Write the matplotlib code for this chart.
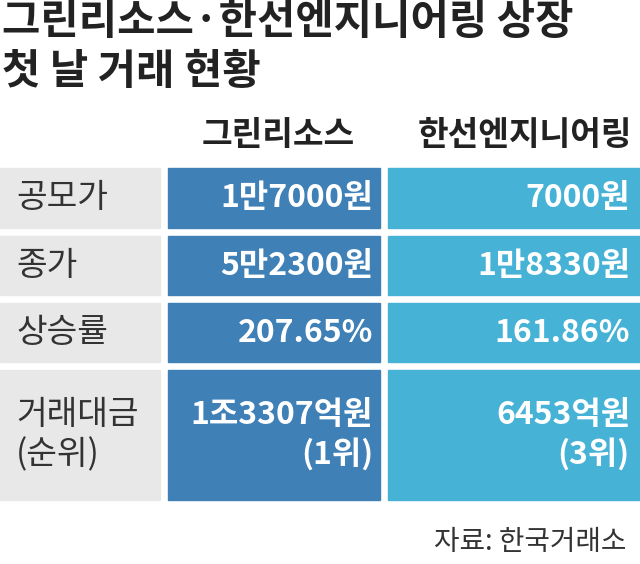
import matplotlib.pyplot as plt
from matplotlib.patches import Rectangle

plt.rcParams['font.family'] = ['Noto Sans CJK KR', 'DejaVu Sans']

title_lines = ['그린리소스·한선엔지니어링 상장', '첫 날 거래 현황']
companies = ['그린리소스', '한선엔지니어링']
row_labels = ['공모가', '종가', '상승률', '거래대금\n(순위)']
green_vals = ['1만7000원', '5만2300원', '207.65%', '1조3307억원\n(1위)']
hansun_vals = ['7000원', '1만8330원', '161.86%', '6453억원\n(3위)']
source = '자료: 한국거래소'

fig = plt.figure(figsize=(6.4, 5.64), dpi=100)
ax = fig.add_axes([0, 0, 1, 1])
ax.set_xlim(0, 640)
ax.set_ylim(564, 0)
ax.axis('off')

ax.text(2, 22, title_lines[0], fontsize=30, fontweight='bold', color='#222222', va='center')
ax.text(2, 72, title_lines[1], fontsize=30, fontweight='bold', color='#222222', va='center')

ax.text(278, 135, companies[0], fontsize=24, fontweight='bold', color='#222222', ha='center', va='center')
ax.text(525, 135, companies[1], fontsize=24, fontweight='bold', color='#222222', ha='center', va='center')

rows = [(168, 228), (236, 295), (303, 362), (370, 500)]
for (y0, y1), lab, g, h in zip(rows, row_labels, green_vals, hansun_vals):
    ax.add_patch(Rectangle((0, y0), 160, y1 - y0, color='#e8e8e8'))
    ax.add_patch(Rectangle((168, y0), 212, y1 - y0, color='#3f80b6'))
    ax.add_patch(Rectangle((388, y0), 252, y1 - y0, color='#46b2d6'))
    yc = (y0 + y1) / 2
    ax.text(16, yc, lab, fontsize=24, color='#333333', va='center', linespacing=1.2)
    ax.text(373, yc, g, fontsize=23, fontweight='bold', color='white', ha='right', va='center',
            multialignment='right', linespacing=1.25)
    ax.text(630, yc, h, fontsize=23, fontweight='bold', color='white', ha='right', va='center',
            multialignment='right', linespacing=1.25)

ax.text(626, 542, source, fontsize=20, color='#333333', ha='right', va='center')

fig.savefig('out.png', dpi=100)
